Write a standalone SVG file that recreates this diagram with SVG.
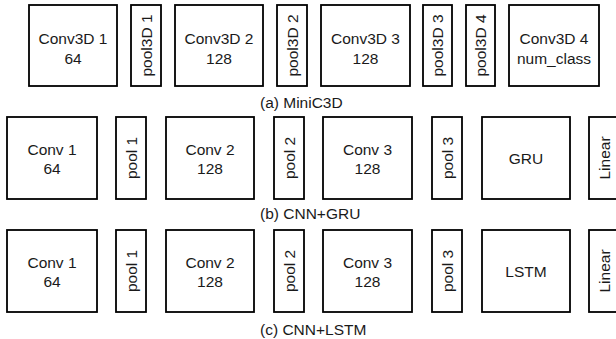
<svg xmlns="http://www.w3.org/2000/svg" width="616" height="339" viewBox="0 0 616 339">
<style>
rect{fill:#fff;stroke:#000;stroke-width:1.8}
text{font-family:"Liberation Sans",Arial,sans-serif;font-size:15.5px;fill:#1a1a1a;text-anchor:middle}
.cap{text-anchor:start}
</style>
<rect x="0" y="0" width="616" height="339" style="stroke:none"/>
<g id="row-a">
<g id="c3d1"><rect x="29" y="5" width="88" height="81"/><text x="73" y="43.5">Conv3D 1</text><text x="73" y="63.5">64</text></g>
<g id="p3d1"><rect x="131" y="5" width="30" height="81"/><text transform="translate(146,45.5) rotate(-90)" dy="5.5">pool3D 1</text></g>
<g id="c3d2"><rect x="175" y="5" width="88" height="81"/><text x="219" y="43.5">Conv3D 2</text><text x="219" y="63.5">128</text></g>
<g id="p3d2"><rect x="277" y="5" width="30" height="81"/><text transform="translate(292,45.5) rotate(-90)" dy="5.5">pool3D 2</text></g>
<g id="c3d3"><rect x="321" y="5" width="89" height="81"/><text x="365.5" y="43.5">Conv3D 3</text><text x="365.5" y="63.5">128</text></g>
<g id="p3d3"><rect x="423" y="5" width="29" height="81"/><text transform="translate(437.5,45.5) rotate(-90)" dy="5.5">pool3D 3</text></g>
<g id="p3d4"><rect x="466" y="5" width="29" height="81"/><text transform="translate(480.5,45.5) rotate(-90)" dy="5.5">pool3D 4</text></g>
<g id="c3d4"><rect x="509" y="5" width="90" height="81"/><text x="554" y="43.5">Conv3D 4</text><text x="554" y="63.5">num_class</text></g>
<text class="cap" x="260" y="108">(a) MiniC3D</text>
</g>
<g id="row-b">
<g id="b-conv1"><rect x="7" y="117" width="90" height="82"/><text x="52" y="155">Conv 1</text><text x="52" y="173.5">64</text></g>
<g id="b-pool1"><rect x="116" y="117" width="30" height="82"/><text transform="translate(131,158) rotate(-90)" dy="5.5">pool 1</text></g>
<g id="b-conv2"><rect x="166" y="117" width="88" height="82"/><text x="210" y="155">Conv 2</text><text x="210" y="173.5">128</text></g>
<g id="b-pool2"><rect x="274" y="117" width="30" height="82"/><text transform="translate(289,158) rotate(-90)" dy="5.5">pool 2</text></g>
<g id="b-conv3"><rect x="323" y="117" width="89" height="82"/><text x="367.5" y="155">Conv 3</text><text x="367.5" y="173.5">128</text></g>
<g id="b-pool3"><rect x="432" y="117" width="30" height="82"/><text transform="translate(447,158) rotate(-90)" dy="5.5">pool 3</text></g>
<g id="b-gru"><rect x="482" y="117" width="88" height="82"/><text x="526" y="164">GRU</text></g>
<g id="b-linear"><rect x="589" y="117" width="30" height="82"/><text transform="translate(604,158) rotate(-90)" dy="5.5">Linear</text></g>
<text class="cap" x="260" y="219">(b) CNN+GRU</text>
</g>
<g id="row-c">
<g id="c-conv1"><rect x="7" y="230" width="90" height="82"/><text x="52" y="268">Conv 1</text><text x="52" y="286.5">64</text></g>
<g id="c-pool1"><rect x="116" y="230" width="30" height="82"/><text transform="translate(131,271) rotate(-90)" dy="5.5">pool 1</text></g>
<g id="c-conv2"><rect x="166" y="230" width="88" height="82"/><text x="210" y="268">Conv 2</text><text x="210" y="286.5">128</text></g>
<g id="c-pool2"><rect x="274" y="230" width="30" height="82"/><text transform="translate(289,271) rotate(-90)" dy="5.5">pool 2</text></g>
<g id="c-conv3"><rect x="323" y="230" width="89" height="82"/><text x="367.5" y="268">Conv 3</text><text x="367.5" y="286.5">128</text></g>
<g id="c-pool3"><rect x="432" y="230" width="30" height="82"/><text transform="translate(447,271) rotate(-90)" dy="5.5">pool 3</text></g>
<g id="c-lstm"><rect x="482" y="230" width="88" height="82"/><text x="526" y="277">LSTM</text></g>
<g id="c-linear"><rect x="589" y="230" width="30" height="82"/><text transform="translate(604,271) rotate(-90)" dy="5.5">Linear</text></g>
<text class="cap" x="260" y="335">(c) CNN+LSTM</text>
</g>
<g id="connectors"/>
</svg>
